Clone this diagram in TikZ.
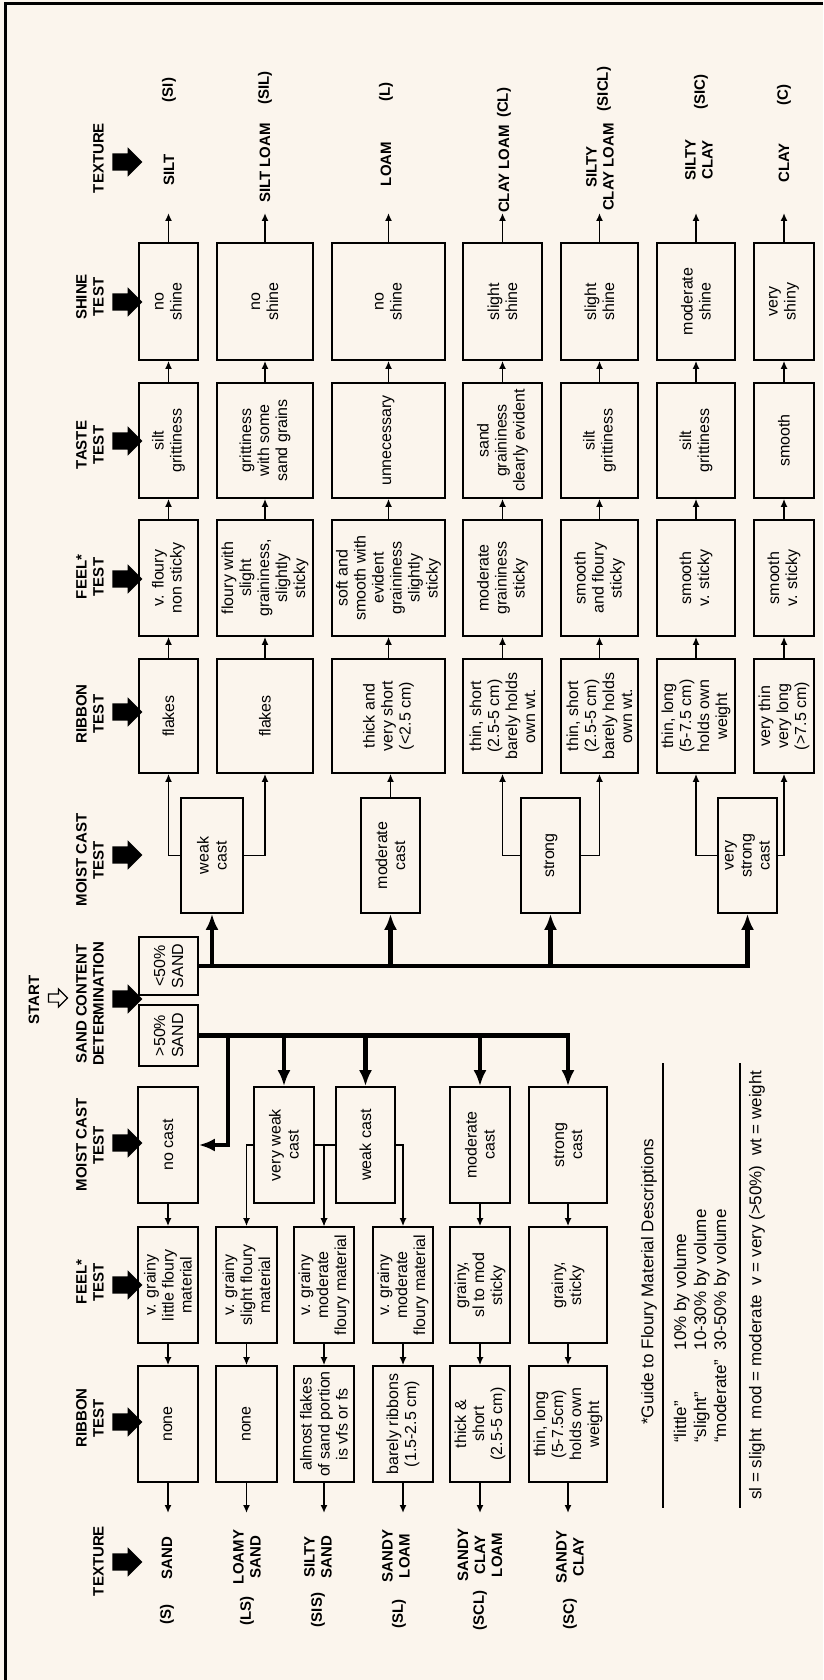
\documentclass[tikz,border=0pt]{standalone}
\usepackage{fontspec}
\setmainfont{Liberation Sans}
\usetikzlibrary{arrows.meta,shapes.arrows}
\newcommand\bxfont{\fontsize{16}{18}\selectfont}
\newcommand\hdfont{\fontsize{15}{17}\selectfont\bfseries}
\newcommand\lgfont{\fontsize{17}{20}\selectfont}
\definecolor{paper}{RGB}{251,245,237}
\tikzset{
  box/.style={draw, line width=1.7pt, rotate=90, inner sep=1pt, align=center, font=\bxfont},
  hdr/.style={rotate=90, anchor=south, inner sep=0pt, align=center, font=\hdfont},
  tex/.style={rotate=90, inner sep=0pt, align=center, font=\hdfont},
  legend/.style={rotate=90, inner sep=0pt, anchor=west, font=\lgfont},
  fatarrow/.style={single arrow, fill=black, inner xsep=0pt, inner ysep=8.5pt, minimum height=30pt, single arrow head extend=6pt},
  hollow/.style={single arrow, draw, line width=1.2pt, inner xsep=0pt, inner ysep=3.5pt, minimum height=19pt, single arrow head extend=5pt},
  conn/.style={line width=1.6pt, -{Latex[length=8pt,width=7pt]}},
  busarrow/.style={line width=4.5pt, -{Latex[length=16pt,width=13pt]}},
  rule/.style={line width=1.3pt}
}
\begin{document}
\begin{tikzpicture}[x=1pt,y=-1pt]
\fill[paper] (0,0) rectangle (823,1680);
\useasboundingbox (0,0) rectangle (823,1680);
\draw[line width=3pt] (5,1680) -- (5,4) -- (823,4);

% headers
\node[hdr] (h1) at (104,158) {TEXTURE};
\node[hdr] (h2) at (104,297) {SHINE\\TEST};
\node[hdr] (h3) at (104,445) {TASTE\\TEST};
\node[hdr] (h4) at (104,577) {FEEL*\\TEST};
\node[hdr] (h5) at (104,714) {RIBBON\\TEST};
\node[hdr] (h6) at (104,860) {MOIST CAST\\TEST};
\node[hdr] (h7) at (104,1004) {SAND CONTENT\\DETERMINATION};
\node[hdr] (h8) at (104,1145) {MOIST CAST\\TEST};
\node[hdr] (h9) at (104,1282) {FEEL*\\TEST};
\node[hdr] (h10) at (104,1418) {RIBBON\\TEST};
\node[hdr] (h11) at (104,1561) {TEXTURE};
\foreach \y [count=\i] in {162,302,441,579,712,855,999,1143,1285,1422,1562}
  \node[fatarrow] (fa\i) at (123,\y) {};
\node[hdr, anchor=center] (start) at (34,1000) {START};
\node[hollow] (sarr) at (56,998) {};

% textures, fine side
\node[tex] (tx1) at (169,170) {SILT};
\node[tex] (ab1) at (169,90) {(SI)};
\node[tex] (tx2) at (265,163) {SILT LOAM};
\node[tex] (ab2) at (265,88) {(SIL)};
\node[tex] (tx3) at (386,164) {LOAM};
\node[tex] (ab3) at (386,92) {(L)};
\node[tex] (tx4) at (504,169) {CLAY LOAM};
\node[tex] (ab4) at (504,103) {(CL)};
\node[tex] (tx5) at (600,167) {SILTY\\CLAY LOAM};
\node[tex] (ab5) at (604,89) {(SICL)};
\node[tex] (tx6) at (699,160) {SILTY\\CLAY};
\node[tex] (ab6) at (701,92) {(SIC)};
\node[tex] (tx7) at (784,163) {CLAY};
\node[tex] (ab7) at (784,95) {(C)};

% shine test
\node[box, minimum width=117pt, minimum height=59pt] (sh1) at (168.5,301.5) {no\\shine};
\node[box, minimum width=117pt, minimum height=96pt] (sh2) at (265,301.5) {no\\shine};
\node[box, minimum width=117pt, minimum height=113pt] (sh3) at (388.5,301.5) {no\\shine};
\node[box, minimum width=117pt, minimum height=79pt] (sh4) at (502.5,301.5) {slight\\shine};
\node[box, minimum width=117pt, minimum height=77pt] (sh5) at (599.5,301.5) {slight\\shine};
\node[box, minimum width=117pt, minimum height=78pt] (sh6) at (696,301.5) {moderate\\shine};
\node[box, minimum width=117pt, minimum height=60pt] (sh7) at (784,301.5) {very\\shiny};

% taste test
\node[box, minimum width=115pt, minimum height=59pt] (ta1) at (168.5,440.5) {silt\\grittiness};
\node[box, minimum width=115pt, minimum height=96pt] (ta2) at (265,440.5) {grittiness\\with some\\sand grains};
\node[box, minimum width=115pt, minimum height=113pt] (ta3) at (388.5,440.5) {unnecessary};
\node[box, minimum width=115pt, minimum height=79pt] (ta4) at (502.5,440.5) {sand\\graininess\\clearly evident};
\node[box, minimum width=115pt, minimum height=77pt] (ta5) at (599.5,440.5) {silt\\grittiness};
\node[box, minimum width=115pt, minimum height=78pt] (ta6) at (696,440.5) {silt\\grittiness};
\node[box, minimum width=115pt, minimum height=60pt] (ta7) at (784,440.5) {smooth};

% feel test
\node[box, minimum width=116pt, minimum height=59pt] (fe1) at (168.5,578) {v. floury\\non sticky};
\node[box, minimum width=116pt, minimum height=96pt] (fe2) at (265,578) {floury with\\slight\\graininess,\\slightly\\sticky};
\node[box, minimum width=116pt, minimum height=113pt] (fe3) at (388.5,578) {soft and\\smooth with\\evident\\graininess\\slightly\\sticky};
\node[box, minimum width=116pt, minimum height=79pt] (fe4) at (502.5,578) {moderate\\graininess\\sticky};
\node[box, minimum width=116pt, minimum height=77pt] (fe5) at (599.5,578) {smooth\\and floury\\sticky};
\node[box, minimum width=116pt, minimum height=78pt] (fe6) at (696,578) {smooth\\v. sticky};
\node[box, minimum width=116pt, minimum height=60pt] (fe7) at (784,578) {smooth\\v. sticky};

% ribbon test
\node[box, minimum width=114pt, minimum height=59pt] (rb1) at (168.5,716) {flakes};
\node[box, minimum width=114pt, minimum height=96pt] (rb2) at (265,716) {flakes};
\node[box, minimum width=114pt, minimum height=113pt] (rb3) at (388.5,716) {thick and\\very short\\(<2.5 cm)};
\node[box, minimum width=114pt, minimum height=79pt] (rb4) at (502.5,716) {thin, short\\(2.5-5 cm)\\barely holds\\own wt.};
\node[box, minimum width=114pt, minimum height=77pt] (rb5) at (599.5,716) {thin, short\\(2.5-5 cm)\\barely holds\\own wt.};
\node[box, minimum width=114pt, minimum height=78pt] (rb6) at (696,716) {thin, long\\(5-7.5 cm)\\holds own\\weight};
\node[box, minimum width=114pt, minimum height=60pt] (rb7) at (784,716) {very thin\\very long\\(>7.5 cm)};

% moist cast, <50% sand
\node[box, minimum width=115pt, minimum height=62pt] (mu1) at (212,855.5) {weak\\cast};
\node[box, minimum width=115pt, minimum height=59pt] (mu2) at (390.5,855.5) {moderate\\cast};
\node[box, minimum width=115pt, minimum height=59pt] (mu3) at (550.5,855.5) {strong};
\node[box, minimum width=115pt, minimum height=59pt] (mu4) at (747.5,855.5) {very\\strong\\cast};

% sand content
\node[box, minimum width=58pt, minimum height=59pt] (sd1) at (168.5,966) {<50\%\\SAND};
\node[box, minimum width=61pt, minimum height=59pt] (sd2) at (168.5,1035.5) {>50\%\\SAND};

% moist cast, >50% sand
\node[box, minimum width=116pt, minimum height=60pt] (ml1) at (168,1145) {no cast};
\node[box, minimum width=116pt, minimum height=60pt] (ml2) at (284,1145) {very weak\\cast};
\node[box, minimum width=116pt, minimum height=59pt] (ml3) at (365.5,1145) {weak cast};
\node[box, minimum width=116pt, minimum height=60pt] (ml4) at (480,1145) {moderate\\cast};
\node[box, minimum width=116pt, minimum height=78pt] (ml5) at (568,1145) {strong\\cast};

% feel test, sandy side
\node[box, minimum width=116pt, minimum height=60pt] (fl1) at (168,1285) {v. grainy\\little floury\\material};
\node[box, minimum width=116pt, minimum height=61pt] (fl2) at (246.5,1285) {v. grainy\\slight floury\\material};
\node[box, minimum width=116pt, minimum height=60pt] (fl3) at (324,1285) {v. grainy\\moderate\\floury material};
\node[box, minimum width=116pt, minimum height=60pt] (fl4) at (403,1285) {v. grainy\\moderate\\floury material};
\node[box, minimum width=116pt, minimum height=60pt] (fl5) at (480,1285) {grainy,\\sl to mod\\sticky};
\node[box, minimum width=116pt, minimum height=78pt] (fl6) at (568,1285) {grainy,\\sticky};

% ribbon test, sandy side
\node[box, minimum width=116pt, minimum height=60pt] (rl1) at (168,1424) {none};
\node[box, minimum width=116pt, minimum height=61pt] (rl2) at (246.5,1424) {none};
\node[box, minimum width=116pt, minimum height=60pt] (rl3) at (324,1424) {almost flakes\\of sand portion\\is vfs or fs};
\node[box, minimum width=116pt, minimum height=60pt] (rl4) at (403,1424) {barely ribbons\\(1.5-2.5 cm)};
\node[box, minimum width=116pt, minimum height=60pt] (rl5) at (480,1424) {thick \&\\short\\(2.5-5 cm)};
\node[box, minimum width=116pt, minimum height=78pt] (rl6) at (568,1424) {thin, long\\(5-7.5cm)\\holds own\\weight};

% textures, sandy side
\node[tex] (txl1) at (167,1558) {SAND};
\node[tex] (abl1) at (167,1614) {(S)};
\node[tex] (txl2) at (247,1557) {LOAMY\\SAND};
\node[tex] (abl2) at (247,1611) {(LS)};
\node[tex] (txl3) at (318,1557) {SILTY\\SAND};
\node[tex] (abl3) at (318,1610) {(SIS)};
\node[tex] (txl4) at (396,1556) {SANDY\\LOAM};
\node[tex] (abl4) at (399,1614) {(SL)};
\node[tex] (txl5) at (480,1555) {SANDY\\CLAY\\LOAM};
\node[tex] (abl5) at (480,1610) {(SCL)};
\node[tex] (txl6) at (570,1557) {SANDY\\CLAY};
\node[tex] (abl6) at (570,1614) {(SC)};

% connectors, fine side
\coordinate (tiptop) at (0,213);
\foreach \r in {1,...,7}{
  \draw[conn] (sh\r.east) -- (sh\r.east |- tiptop);
  \draw[conn] (ta\r.east) -- (sh\r.west);
  \draw[conn] (fe\r.east) -- (ta\r.west);
  \draw[conn] (rb\r.east) -- (fe\r.west); }
\draw[conn] (mu1.north) -| (rb1.west);
\draw[conn] (mu1.south) -| (rb2.west);
\draw[conn] (mu2.east) -- (mu2.east |- rb3.west);
\draw[conn] (mu3.north) -| (rb4.west);
\draw[conn] (mu3.south) -| (rb5.west);
\draw[conn] (mu4.north) -| (rb6.west);
\draw[conn] (mu4.south) -| (rb7.west);
\draw[busarrow] (sd1.south) -| (mu4.west);
\foreach \n in {1,2,3}
  \draw[busarrow] (sd1.south -| mu\n.west) -- (mu\n.west);

% connectors, sandy side
\coordinate (drop) at (228,1035.5);
\draw[busarrow] (sd2.south) -| (ml5.east);
\foreach \n in {2,3,4}
  \draw[busarrow] (sd2.south -| ml\n.east) -- (ml\n.east);
\draw[busarrow] (sd2.south -| drop) |- (ml1.south);
\draw[conn] (ml1.west) -- (fl1.east);
\draw[conn] (ml2.north) -| (fl2.east);
\draw[conn] (ml2.south) -| (fl3.east);
\draw[conn] (ml3.north) -| (fl3.east);
\draw[conn] (ml3.south) -| (fl4.east);
\draw[conn] (ml4.west) -- (fl5.east);
\draw[conn] (ml5.west) -- (fl6.east);
\coordinate (tipbot) at (0,1513);
\foreach \r in {1,...,6}{
  \draw[conn] (fl\r.west) -- (rl\r.east);
  \draw[conn] (rl\r.west) -- (rl\r.west |- tipbot); }

% legend
\draw[rule] (663,1063) -- (663,1508);
\draw[rule] (740,1063) -- (740,1508);
\node[legend] (lg1) at (649,1425) {*Guide to Floury Material Descriptions};
\node[legend] (lg2) at (702,1443) {\begin{tabular}{@{}l@{\ \ }l@{}}``little'' & 10\% by volume\\``slight'' & 10-30\% by volume\\``moderate'' & 30-50\% by volume\end{tabular}};
\node[legend] (lg3) at (757,1500) {sl = slight\ \ mod = moderate\ \ v = very (>50\%)\ \ wt = weight};
\end{tikzpicture}
\end{document}
